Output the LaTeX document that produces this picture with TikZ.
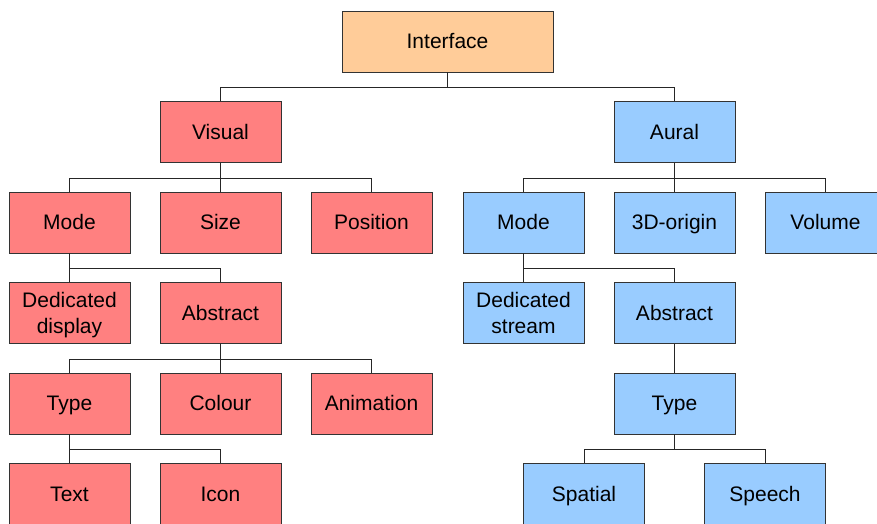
\documentclass[tikz,border=0pt]{standalone}
\usepackage{fontspec}
\setmainfont{Liberation Sans}
\definecolor{orangefill}{HTML}{FFCC99}
\definecolor{redfill}{HTML}{FF8080}
\definecolor{bluefill}{HTML}{99CCFF}
\begin{document}
\begin{tikzpicture}[node distance=90.5pt, auto,
    box/.style={draw=black!80, line width=0.7pt, rectangle, minimum width=121pt, minimum height=61pt,
        align=center, font=\fontsize{21}{26}\selectfont, text height=15pt, text depth=1pt},
    twoline/.style={text height=41pt, text depth=1pt},
    orangebox/.style={box, fill=orangefill, minimum width=211pt},
    redbox/.style={box, fill=redfill},
    bluebox/.style={box, fill=bluefill},
    link/.style={draw=black!85, line width=0.6pt}]
    \clip (0,0) rectangle (877pt,-523pt);

    % Root
    \node (interface) [orangebox] at (447.5pt,-41.5pt) {Interface};

    % Visual branch
    \node (visual) [below of=interface, xshift=-227pt, redbox] {Visual};
    \node (vmode) [below of=visual, xshift=-151pt, redbox] {Mode};
    \node (size) [below of=visual, redbox] {Size};
    \node (position) [below of=visual, xshift=151pt, redbox] {Position};
    \node (display) [below of=vmode, redbox, twoline] {Dedicated\\display};
    \node (vabstract) [below of=size, redbox] {Abstract};
    \node (vtype) [below of=display, redbox] {Type};
    \node (colour) [below of=vabstract, redbox] {Colour};
    \node (animation) [below of=vabstract, xshift=151pt, redbox] {Animation};
    \node (text) [below of=vtype, redbox] {Text};
    \node (icon) [below of=colour, redbox] {Icon};

    % Aural branch
    \node (aural) [below of=interface, xshift=227pt, bluebox] {Aural};
    \node (amode) [below of=aural, xshift=-151pt, bluebox] {Mode};
    \node (origin) [below of=aural, bluebox] {3D-origin};
    \node (volume) [below of=aural, xshift=151pt, bluebox] {Volume};
    \node (stream) [below of=amode, bluebox, twoline] {Dedicated\\stream};
    \node (aabstract) [below of=origin, bluebox] {Abstract};
    \node (atype) [below of=aabstract, bluebox] {Type};
    \node (spatial) [below of=atype, xshift=-90.5pt, bluebox] {Spatial};
    \node (speech) [below of=atype, xshift=90.5pt, bluebox] {Speech};

    % Connectors
    \draw[link] (interface.south) -- ++(0,-15pt) -| (visual.north);
    \draw[link] (interface.south) -- ++(0,-15pt) -| (aural.north);

    \draw[link] (visual.south) -- ++(0,-15pt) -| (vmode.north);
    \draw[link] (visual.south) -- (size.north);
    \draw[link] (visual.south) -- ++(0,-15pt) -| (position.north);
    \draw[link] (vmode.south) -- (display.north);
    \draw[link] (vmode.south) -- ++(0,-15pt) -| (vabstract.north);
    \draw[link] (vabstract.south) -- ++(0,-15pt) -| (vtype.north);
    \draw[link] (vabstract.south) -- (colour.north);
    \draw[link] (vabstract.south) -- ++(0,-15pt) -| (animation.north);
    \draw[link] (vtype.south) -- (text.north);
    \draw[link] (vtype.south) -- ++(0,-15pt) -| (icon.north);

    \draw[link] (aural.south) -- ++(0,-15pt) -| (amode.north);
    \draw[link] (aural.south) -- (origin.north);
    \draw[link] (aural.south) -- ++(0,-15pt) -| (volume.north);
    \draw[link] (amode.south) -- (stream.north);
    \draw[link] (amode.south) -- ++(0,-15pt) -| (aabstract.north);
    \draw[link] (aabstract.south) -- (atype.north);
    \draw[link] (atype.south) -- ++(0,-15pt) -| (spatial.north);
    \draw[link] (atype.south) -- ++(0,-15pt) -| (speech.north);
\end{tikzpicture}
\end{document}
